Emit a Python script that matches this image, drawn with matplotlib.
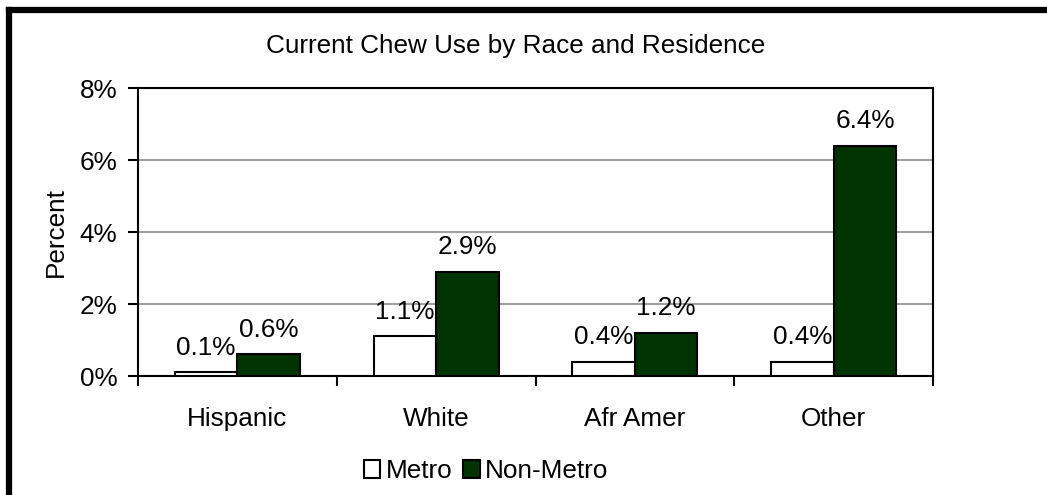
import numpy as np
import matplotlib.pyplot as plt
from matplotlib.lines import Line2D

plt.rcParams['font.family'] = ['Liberation Sans', 'DejaVu Sans']

categories = ["Hispanic", "White", "Afr Amer", "Other"]
metro = [0.1, 1.1, 0.4, 0.4]
non_metro = [0.6, 2.9, 1.2, 6.4]
yticks = [0, 2, 4, 6, 8]

fs = 18.8
fig = plt.figure(figsize=(10.47, 4.95), dpi=100)
ax = fig.add_axes([138 / 1047, 1 - 376 / 495, 795 / 1047, 288 / 495])

x = np.arange(len(categories))
w = 0.315
b1 = ax.bar(x - w / 2, metro, w, color="white", edgecolor="black", linewidth=1.5, label="Metro", zorder=3)
b2 = ax.bar(x + w / 2, non_metro, w, color="#003300", edgecolor="black", linewidth=1.5, label="Non-Metro", zorder=3)
for bars in (b1, b2):
    ax.bar_label(bars, labels=[f"{v:.1f}%" for v in bars.datavalues], padding=9, fontsize=fs)

ax.set_xlim(-0.5, len(categories) - 0.5)
ax.set_ylim(0, 8)
ax.set_yticks(yticks)
ax.set_yticklabels([f"{t}%" for t in yticks], fontsize=fs)
ax.yaxis.grid(True, color="#a0a0a0", linewidth=1.5, zorder=0)
ax.set_axisbelow(True)
ax.tick_params(axis="y", direction="out", length=7, width=1.5, pad=8)

ax.set_xticks(np.arange(len(categories) + 1) - 0.5)
ax.set_xticklabels([])
ax.set_xticks(x, minor=True)
ax.set_xticklabels(categories, minor=True, fontsize=fs)
ax.tick_params(axis="x", which="major", direction="out", length=7, width=1.5)
ax.tick_params(axis="x", which="minor", length=0, pad=22)

for s in ax.spines.values():
    s.set_linewidth(1.5)

ax.set_ylabel("Percent", fontsize=fs, labelpad=8)
fig.text(516 / 1047, 1 - 46 / 495, "Current Chew Use by Race and Residence",
         ha="center", va="center", fontsize=fs)

fig.legend(handles=[b1, b2], loc="center", bbox_to_anchor=(486 / 1047, 1 - 471 / 495),
           ncol=2, frameon=False, fontsize=fs, handlelength=0.65, handleheight=0.65,
           handletextpad=0.2, columnspacing=0.4)

# outer chart frame (only top and left edges visible)
fig.add_artist(Line2D([9 / 1047, 9 / 1047], [0, 1 - 10 / 495], transform=fig.transFigure,
                      color="black", linewidth=4.5, solid_capstyle="projecting"))
fig.add_artist(Line2D([9 / 1047, 1], [1 - 10 / 495, 1 - 10 / 495], transform=fig.transFigure,
                      color="black", linewidth=4.5, solid_capstyle="projecting"))

fig.savefig("out.png", dpi=100)
